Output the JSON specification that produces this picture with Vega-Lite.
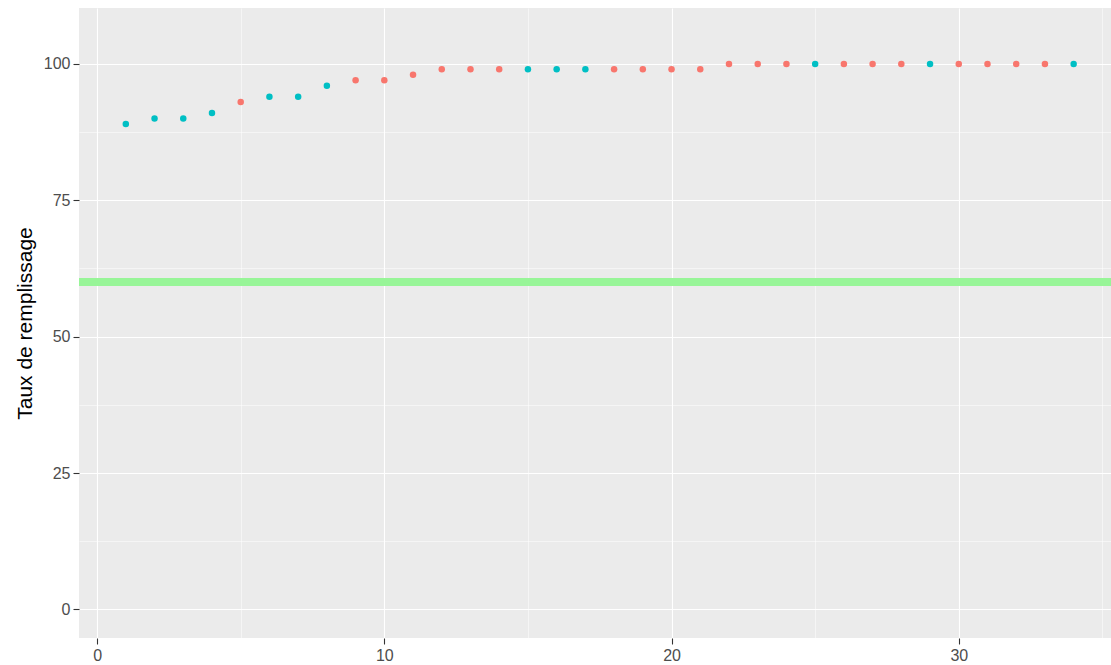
{
  "$schema": "https://vega.github.io/schema/vega-lite/v6.json",
  "autosize": "none",
  "width": 1032,
  "height": 630,
  "padding": {"left": 79, "top": 8, "right": 0, "bottom": 27},
  "background": "white",
  "config": {
    "view": {"fill": "#EBEBEB", "stroke": null},
    "font": "Liberation Sans",
    "axis": {
      "domain": false,
      "grid": true,
      "gridColor": "white",
      "tickColor": "#333333",
      "tickSize": 6,
      "tickWidth": 1.1,
      "labelColor": "#4D4D4D",
      "labelFontSize": 16,
      "labelPadding": 3,
      "titleColor": "black",
      "titleFontSize": 21,
      "titleFontWeight": "normal"
    }
  },
  "data": {
    "values": [
      {"rang": 1, "taux": 89, "groupe": "B"},
      {"rang": 2, "taux": 90, "groupe": "B"},
      {"rang": 3, "taux": 90, "groupe": "B"},
      {"rang": 4, "taux": 91, "groupe": "B"},
      {"rang": 5, "taux": 93, "groupe": "A"},
      {"rang": 6, "taux": 94, "groupe": "B"},
      {"rang": 7, "taux": 94, "groupe": "B"},
      {"rang": 8, "taux": 96, "groupe": "B"},
      {"rang": 9, "taux": 97, "groupe": "A"},
      {"rang": 10, "taux": 97, "groupe": "A"},
      {"rang": 11, "taux": 98, "groupe": "A"},
      {"rang": 12, "taux": 99, "groupe": "A"},
      {"rang": 13, "taux": 99, "groupe": "A"},
      {"rang": 14, "taux": 99, "groupe": "A"},
      {"rang": 15, "taux": 99, "groupe": "B"},
      {"rang": 16, "taux": 99, "groupe": "B"},
      {"rang": 17, "taux": 99, "groupe": "B"},
      {"rang": 18, "taux": 99, "groupe": "A"},
      {"rang": 19, "taux": 99, "groupe": "A"},
      {"rang": 20, "taux": 99, "groupe": "A"},
      {"rang": 21, "taux": 99, "groupe": "A"},
      {"rang": 22, "taux": 100, "groupe": "A"},
      {"rang": 23, "taux": 100, "groupe": "A"},
      {"rang": 24, "taux": 100, "groupe": "A"},
      {"rang": 25, "taux": 100, "groupe": "B"},
      {"rang": 26, "taux": 100, "groupe": "A"},
      {"rang": 27, "taux": 100, "groupe": "A"},
      {"rang": 28, "taux": 100, "groupe": "A"},
      {"rang": 29, "taux": 100, "groupe": "B"},
      {"rang": 30, "taux": 100, "groupe": "A"},
      {"rang": 31, "taux": 100, "groupe": "A"},
      {"rang": 32, "taux": 100, "groupe": "A"},
      {"rang": 33, "taux": 100, "groupe": "A"},
      {"rang": 34, "taux": 100, "groupe": "B"}
    ]
  },
  "resolve": {"axis": {"x": "independent", "y": "independent"}},
  "layer": [
    {
      "mark": {"type": "rule", "color": "#98F598", "strokeWidth": 8},
      "encoding": {
        "y": {
          "datum": 60,
          "type": "quantitative",
          "scale": {"domain": [-5.25, 110.25], "nice": false, "zero": false},
          "axis": {"orient": "left", "values": [12.5, 37.5, 62.5, 87.5], "grid": true, "labels": false, "ticks": false, "title": null, "gridWidth": 0.5, "zindex": 0}
        },
        "x": {
          "datum": -0.63,
          "type": "quantitative",
          "scale": {"domain": [-0.63, 35.3], "nice": false, "zero": false},
          "axis": {"orient": "bottom", "values": [5, 15, 25, 35], "grid": true, "labels": false, "ticks": false, "title": null, "gridWidth": 0.5, "zindex": 0}
        },
        "x2": {"datum": 35.3}
      }
    },
    {
      "mark": {"type": "point", "filled": true, "opacity": 1, "size": 42},
      "encoding": {
        "x": {
          "field": "rang",
          "type": "quantitative",
          "scale": {"domain": [-0.63, 35.3], "nice": false, "zero": false},
          "axis": {"orient": "bottom", "values": [0, 10, 20, 30], "grid": true, "title": null, "gridWidth": 1.1, "zindex": 0}
        },
        "y": {
          "field": "taux",
          "type": "quantitative",
          "scale": {"domain": [-5.25, 110.25], "nice": false, "zero": false},
          "axis": {"orient": "left", "values": [0, 25, 50, 75, 100], "grid": true, "title": "Taux de remplissage", "gridWidth": 1.1, "zindex": 0, "titlePadding": 8}
        },
        "color": {
          "field": "groupe",
          "type": "nominal",
          "scale": {"domain": ["A", "B"], "range": ["#F8766D", "#00BFC4"]},
          "legend": null
        }
      }
    }
  ]
}
